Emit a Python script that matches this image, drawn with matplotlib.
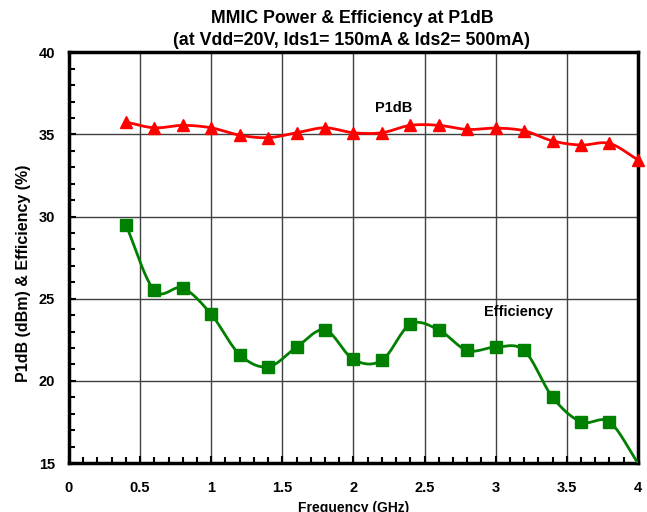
import numpy as np
import matplotlib
matplotlib.use("Agg")
import matplotlib.pyplot as plt
from matplotlib.ticker import MultipleLocator, FuncFormatter

freq = [0.4, 0.6, 0.8, 1.0, 1.2, 1.4, 1.6, 1.8, 2.0, 2.2, 2.4, 2.6, 2.8, 3.0, 3.2, 3.4, 3.6, 3.8, 4.0]
p1db = [35.75, 35.4, 35.55, 35.4, 34.95, 34.8, 35.1, 35.4, 35.1, 35.1, 35.55, 35.55, 35.3, 35.38, 35.22, 34.6, 34.35, 34.45, 33.45]
eff = [29.5, 25.5, 25.65, 24.05, 21.6, 20.85, 22.05, 23.1, 21.3, 21.25, 23.45, 23.1, 21.85, 22.05, 21.85, 19.0, 17.5, 17.5, 15.0]
xticks = [0, 0.5, 1, 1.5, 2, 2.5, 3, 3.5, 4]
yticks = [15, 20, 25, 30, 35, 40]

plt.rcParams['font.family'] = ['Liberation Sans', 'DejaVu Sans']
plt.rcParams['font.weight'] = 'bold'


def smooth(x, y, n=20):
    # Catmull-Rom style smoothing (Excel "smoothed line" look)
    x = np.asarray(x, float); y = np.asarray(y, float)
    px = np.concatenate([[2 * x[0] - x[1]], x, [2 * x[-1] - x[-2]]])
    py = np.concatenate([[2 * y[0] - y[1]], y, [2 * y[-1] - y[-2]]])
    xs, ys = [], []
    t = np.linspace(0, 1, n, endpoint=False)
    for i in range(1, len(px) - 2):
        p0x, p1x, p2x, p3x = px[i - 1:i + 3]
        p0y, p1y, p2y, p3y = py[i - 1:i + 3]
        for (a0, a1, a2, a3, out) in ((p0x, p1x, p2x, p3x, xs), (p0y, p1y, p2y, p3y, ys)):
            m1 = (a2 - a0) / 2
            m2 = (a3 - a1) / 2
            h00 = 2 * t**3 - 3 * t**2 + 1
            h10 = t**3 - 2 * t**2 + t
            h01 = -2 * t**3 + 3 * t**2
            h11 = t**3 - t**2
            out.extend(h00 * a1 + h10 * m1 + h01 * a2 + h11 * m2)
    xs.append(x[-1]); ys.append(y[-1])
    return np.array(xs), np.array(ys)


fig = plt.figure(figsize=(6.47, 5.12), dpi=100)
ax = fig.add_axes([0.1066, 0.0957, 0.8794, 0.8023])

sx, sy = smooth(freq, p1db)
ax.plot(sx, sy, color='#FF0000', lw=2.0, zorder=3)
ax.plot(freq, p1db, ls='none', marker='^', ms=8, color='#FF0000', zorder=4, clip_on=False)

ex, ey = smooth(freq, eff)
ax.plot(ex, ey, color='#008000', lw=2.0, zorder=3)
ax.plot(freq[:-1], eff[:-1], ls='none', marker='s', ms=8.5, color='#008000', zorder=4)

ax.set_xlim(0, 4)
ax.set_ylim(15, 40)
ax.set_xticks(xticks)
ax.set_yticks(yticks)
ax.xaxis.set_major_formatter(FuncFormatter(lambda v, p: f"{v:g}"))
ax.xaxis.set_minor_locator(MultipleLocator(0.1))
ax.yaxis.set_minor_locator(MultipleLocator(1))
ax.tick_params(which='both', direction='in', width=1.5, labelsize=10.5)
ax.tick_params(which='major', length=5)
ax.tick_params(which='minor', length=4)
ax.tick_params(axis='x', pad=13)
ax.tick_params(axis='y', pad=10)
ax.grid(True, which='major', color='#404040', lw=1.0)
for s in ax.spines.values():
    s.set_linewidth(2.5)

ax.set_xlabel('Frequency (GHz)', fontsize=10, fontweight='bold', labelpad=4)
ax.set_ylabel('P1dB (dBm) & Efficiency (%)', fontsize=11.5, fontweight='bold')
ax.yaxis.set_label_coords(-0.066, 0.462)
fig.text(0.544, 0.963, 'MMIC Power & Efficiency at P1dB', ha='center', va='center', fontsize=12.8, fontweight='bold')
fig.text(0.544, 0.921, '(at Vdd=20V, Ids1= 150mA & Ids2= 500mA)', ha='center', va='center', fontsize=12.8, fontweight='bold')

ax.text(2.28, 36.6, 'P1dB', ha='center', va='center', fontsize=10.5, fontweight='bold')
ax.text(3.16, 24.2, 'Efficiency', ha='center', va='center', fontsize=10.5, fontweight='bold')

fig.savefig('out.png', dpi=100)
